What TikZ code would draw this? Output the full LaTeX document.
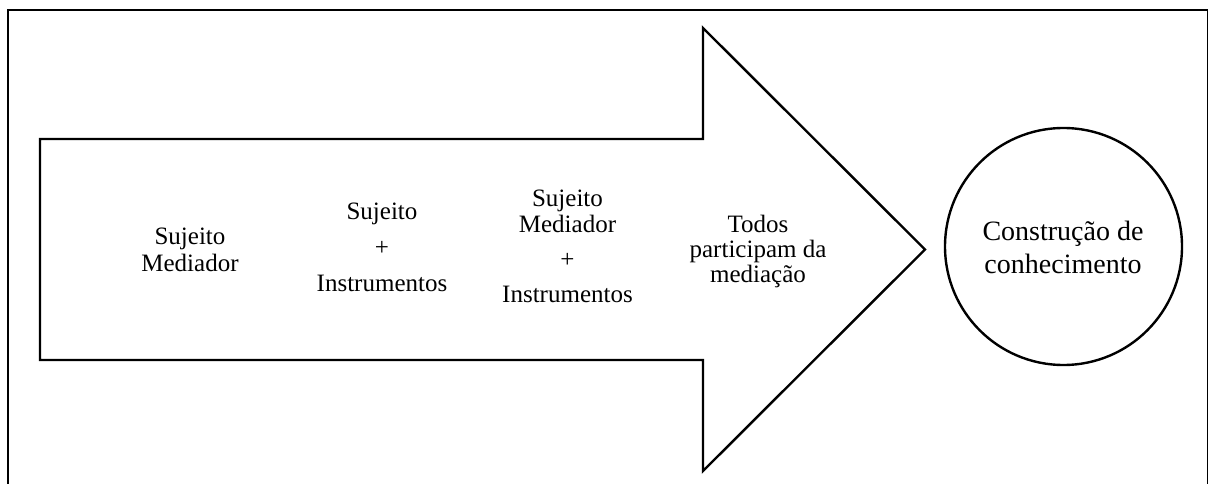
\documentclass[tikz,border=0pt]{standalone}
\usepackage{fontspec}
\setmainfont{Liberation Serif}
\begin{document}
\begin{tikzpicture}[x=1pt,y=-1pt,
  framestyle/.style={line width=1.8pt, draw=black},
  arrowshape/.style={line width=2.4pt, draw=black, line join=miter},
  lbl/.style={align=center, inner sep=0pt, font=\fontsize{25}{26}\selectfont},
  circlbl/.style={circle, draw=black, line width=2.4pt, minimum size=237pt, inner sep=0pt, align=center, font=\fontsize{28}{33}\selectfont}]
\useasboundingbox (0,0) rectangle (1209,484);
% outer frame
\draw[framestyle] (8,500) -- (8,10) -- (1207.5,10) -- (1207.5,500);
% big arrow
\draw[arrowshape] (40,139) -- (703,139) -- (703,28) -- (925,249.5) -- (703,471) -- (703,360) -- (40,360) -- cycle;
% texts
\node[lbl, font=\fontsize{25}{27}\selectfont] (g1) at (190,250) {Sujeito\\Mediador};
\node[lbl] (g2) at (382,247.5) {Sujeito\\[10pt]+\\[10pt]Instrumentos};
\node[lbl] (g3) at (567.5,246.5) {Sujeito\\Mediador\\[9pt]+\\[9pt]Instrumentos};
\node[lbl, font=\fontsize{25}{25}\selectfont] (g4) at (758,251.6) {Todos\\participam da\\mediação};
% circle
\node[circlbl] (c) at (1063.5,246.5) {};
\node[inner sep=0pt, align=center, font=\fontsize{28}{33}\selectfont] (ct) at (1063,247) {Construção de\\conhecimento};
\end{tikzpicture}
\end{document}
